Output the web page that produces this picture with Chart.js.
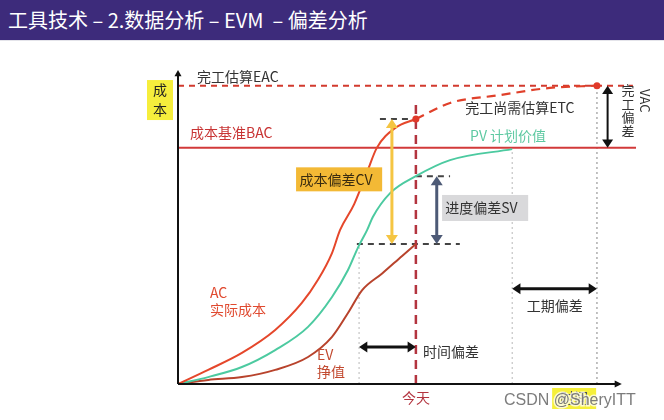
<!DOCTYPE html>
<html>
<head>
<meta charset="utf-8">
<script src="https://cdn.jsdelivr.net/npm/chart.js@4"></script>
<style>
  body { margin: 0; background: #fff; }
  #wrap { position: relative; width: 664px; height: 420px; }
  #title {
    position: absolute; left: 0; top: 0; width: 656px; height: 40px;
    padding-left: 8px; background: #3d2b7b; color: #fff;
    font: 20px "Noto Sans CJK SC", sans-serif; line-height: 40px;
    border-bottom: 1px solid #e4e4ea;
  }
  canvas { position: absolute; left: 0; top: 0; }
</style>
</head>
<body>
<div id="wrap">
  <canvas id="evm" width="664" height="420"></canvas>
  <div id="title">工具技术 – 2.数据分析 – EVM&nbsp; – 偏差分析</div>
</div>
<script>
// time axis 0..105, cost axis 0..100
const acX = [0, 6.8, 14.4, 21.9, 27.9, 31.5, 34.7, 36.5, 39.7, 42.6, 44.8, 48.9, 53.6];
const acY = [0, 4.5, 9.9, 17.2, 25.8, 33.1, 41.7, 49, 57.3, 67.5, 75.2, 81.5, 84.4];
const pvX = [0, 6.8, 14.4, 21.9, 29.3, 34.7, 38.3, 40.6, 42.6, 43.9, 47.8, 53.6, 61.3, 75.3];
const pvY = [0, 2.2, 5.4, 10.8, 18.2, 27.7, 36.3, 43.6, 49, 53.2, 60.8, 66.2, 71.3, 74.8];
const evX = [0, 6.8, 14.4, 21.9, 29.3, 34.7, 38.3, 41.5, 46, 50.5, 53.6];
const evY = [0, 1.3, 2.2, 4.5, 8.6, 15, 22.6, 29.9, 35.2, 40.8, 44.6];
const etcX = [53.6, 61.3, 72.5, 83.8, 94.4];
const etcY = [84.4, 89.5, 92, 94.3, 95];

const eac = 95;          // 完工估算
const bac = 75.2;        // 成本基准
const today = 53.6;
const todayAC = 84.4;
const todayPV = 66.2;
const todayEV = 44.6;
const planTimeOfEV = 40.8;   // time when PV equalled today's EV
const finishPV = 75.3;       // planned finish
const finishEAC = 94.4;      // forecast finish

const zip = (xs, ys) => xs.map((x, i) => ({ x: x, y: ys[i] }));
const seg = (x1, y1, x2, y2) => [{ x: x1, y: y1 }, { x: x2, y: y2 }];

const FONT = '"Noto Sans CJK SC", sans-serif';

function line(data, color, width, dash, extra) {
  return Object.assign({
    type: 'line', data: data, borderColor: color, borderWidth: width,
    borderDash: dash || [], pointRadius: 0, fill: false
  }, extra || {});
}

function arrow(ctx, x1, y1, x2, y2, color, width, head) {
  const ang = Math.atan2(y2 - y1, x2 - x1);
  const hl = head * 1.5, hw = head;
  ctx.save();
  ctx.strokeStyle = color;
  ctx.fillStyle = color;
  ctx.lineWidth = width;
  ctx.beginPath();
  ctx.moveTo(x1 + Math.cos(ang) * hl * 0.8, y1 + Math.sin(ang) * hl * 0.8);
  ctx.lineTo(x2 - Math.cos(ang) * hl * 0.8, y2 - Math.sin(ang) * hl * 0.8);
  ctx.stroke();
  [[x2, y2, ang], [x1, y1, ang + Math.PI]].forEach(([tx, ty, a]) => {
    ctx.beginPath();
    ctx.moveTo(tx, ty);
    ctx.lineTo(tx - Math.cos(a) * hl + Math.sin(a) * hw, ty - Math.sin(a) * hl - Math.cos(a) * hw);
    ctx.lineTo(tx - Math.cos(a) * hl - Math.sin(a) * hw, ty - Math.sin(a) * hl + Math.cos(a) * hw);
    ctx.closePath();
    ctx.fill();
  });
  ctx.restore();
}

function text(ctx, str, x, y, color, size, align) {
  ctx.fillStyle = color;
  ctx.font = (size || 14) + 'px ' + FONT;
  ctx.textAlign = align || 'left';
  ctx.textBaseline = 'middle';
  ctx.fillText(str, x, y);
}

// axes, arrows, boxes and labels drawn over the plot
const overlay = {
  id: 'overlay',
  afterDatasetsDraw(chart) {
    const ctx = chart.ctx;
    const X = v => chart.scales.x.getPixelForValue(v);
    const Y = v => chart.scales.y.getPixelForValue(v);
    const x0 = X(0), y0 = Y(0);

    // axes
    ctx.save();
    ctx.strokeStyle = '#111';
    ctx.fillStyle = '#111';
    ctx.lineWidth = 2;
    ctx.beginPath();
    ctx.moveTo(x0, y0); ctx.lineTo(x0, Y(99));
    ctx.moveTo(x0, y0); ctx.lineTo(X(99.5), y0);
    ctx.stroke();
    ctx.beginPath();
    ctx.moveTo(x0, Y(100)); ctx.lineTo(x0 - 3.5, Y(98)); ctx.lineTo(x0 + 3.5, Y(98)); ctx.fill();
    ctx.beginPath();
    ctx.moveTo(X(100), y0); ctx.lineTo(X(98.4), y0 - 3.5); ctx.lineTo(X(98.4), y0 + 3.5); ctx.fill();
    ctx.restore();

    // variance arrows
    arrow(ctx, X(48.2), Y(todayAC), X(48.2), Y(todayEV), '#f5c542', 3, 6);
    arrow(ctx, X(58.3), Y(todayPV), X(58.3), Y(todayEV), '#4d5a76', 3, 6);
    arrow(ctx, X(96.8), Y(eac), X(96.8), Y(bac), '#111', 2, 5.5);
    arrow(ctx, X(planTimeOfEV), Y(11.8), X(today), Y(11.8), '#111', 3, 5.5);
    arrow(ctx, X(finishPV), Y(30.3), X(finishEAC), Y(30.3), '#111', 3, 5.5);

    // label boxes
    ctx.fillStyle = '#f3b935';
    ctx.fillRect(X(26.6), Y(69), X(46) - X(26.6), 24);
    text(ctx, '成本偏差CV', X(27.4), Y(69) + 12, '#3a2c10');
    ctx.fillStyle = '#d9d9db';
    ctx.fillRect(X(59.5), Y(60.2), X(78.9) - X(59.5), 26);
    text(ctx, '进度偏差SV', X(60.2), Y(60.2) + 13, '#333');

    // y axis label
    ctx.fillStyle = '#f6ee3c';
    ctx.fillRect(147, Y(96.8), 26, 40);
    text(ctx, '成', 160, Y(96.8) + 10, '#222', 14, 'center');
    text(ctx, '本', 160, Y(96.8) + 30, '#222', 14, 'center');

    // x axis label under the watermark
    ctx.fillStyle = '#f6f03a';
    ctx.fillRect(X(84.3), y0 + 4, 44, 21);
    text(ctx, '时间', X(89.3), y0 + 14, '#555', 14, 'center');

    text(ctx, '完工估算EAC', X(4.3), Y(97.8), '#333');
    text(ctx, '成本基准BAC', X(2.7), Y(79.9), '#c83434');
    text(ctx, '完工尚需估算ETC', X(64.7), Y(87.9), '#333');
    text(ctx, 'PV 计划价值', X(65.8), Y(79), '#5ec9a2');
    text(ctx, 'AC', X(7.2), Y(29), '#e04a30');
    text(ctx, '实际成本', X(7.2), Y(23.6), '#e04a30');
    text(ctx, 'EV', X(31.3), Y(9.2), '#c24a30');
    text(ctx, '挣值', X(31.3), Y(3.8), '#c24a30');
    text(ctx, '时间偏差', X(55.2), Y(10.2), '#333');
    text(ctx, '工期偏差', X(78.6), Y(24.8), '#333');
    text(ctx, '今天', X(today), y0 + 14, '#b3343f', 14, 'center');

    // VAC labels beside the arrow
    ['完', '工', '偏', '差'].forEach((c, i) => text(ctx, c, X(101.4), Y(93.6) + i * 13.5, '#333', 13, 'center'));
    ctx.save();
    ctx.translate(X(105.1), Y(90.2));
    ctx.rotate(Math.PI / 2);
    text(ctx, 'VAC', 0, 0, '#333', 13, 'center');
    ctx.restore();

    // watermark
    ctx.font = '16px "Liberation Sans", sans-serif';
    ctx.textAlign = 'left';
    ctx.textBaseline = 'middle';
    ctx.strokeStyle = 'rgba(255,255,255,0.75)';
    ctx.lineWidth = 3;
    ctx.strokeText('CSDN @SheryITT', 504, 401);
    ctx.fillStyle = 'rgba(110,110,110,0.9)';
    ctx.fillText('CSDN @SheryITT', 504, 401);
  }
};

new Chart(document.getElementById('evm'), {
  type: 'line',
  plugins: [overlay],
  data: {
    datasets: [
      { type: 'scatter', data: [{ x: today, y: todayAC }, { x: finishEAC, y: eac }],
        pointRadius: 3.5, backgroundColor: '#e03a2a', borderWidth: 0 },
      line(zip(acX, acY), '#e5472b', 2, null, { cubicInterpolationMode: 'monotone' }),
      line(zip(pvX, pvY), '#4ccaa0', 2, null, { cubicInterpolationMode: 'monotone' }),
      line(zip(evX, evY), '#b8432c', 2, null, { cubicInterpolationMode: 'monotone' }),
      line(zip(etcX, etcY), '#e0402a', 2.2, [9, 6], { cubicInterpolationMode: 'monotone' }),
      line(seg(0, eac, 102.5, eac), '#d23a2e', 2, [6, 5]),
      line(seg(0, bac, 103.2, bac), '#d23a3a', 2),
      line(seg(today, 0, today, 90), '#b3343f', 2.5, [9, 6]),
      line(seg(45.5, todayAC, today, todayAC), '#444', 2, [6, 5]),
      line(seg(today, todayPV, 61.3, todayPV), '#444', 2, [6, 5]),
      line(seg(40.3, todayEV, 63.5, todayEV), '#444', 2, [6, 5]),
      line(seg(planTimeOfEV, 0, planTimeOfEV, todayEV), '#b8b8b8', 1, [2, 3]),
      line(seg(finishPV, 0, finishPV, 74.8), '#b8b8b8', 1, [2, 3]),
      line(seg(finishEAC, 0, finishEAC, eac), '#999', 1.2, [2, 3])
    ]
  },
  options: {
    responsive: false,
    animation: false,
    layout: { padding: { left: 178, right: 20, top: 70, bottom: 36 } },
    scales: {
      x: { type: 'linear', min: 0, max: 105, display: false },
      y: { min: 0, max: 100, display: false }
    },
    plugins: { legend: { display: false }, tooltip: { enabled: false } }
  }
});
</script>
</body>
</html>
